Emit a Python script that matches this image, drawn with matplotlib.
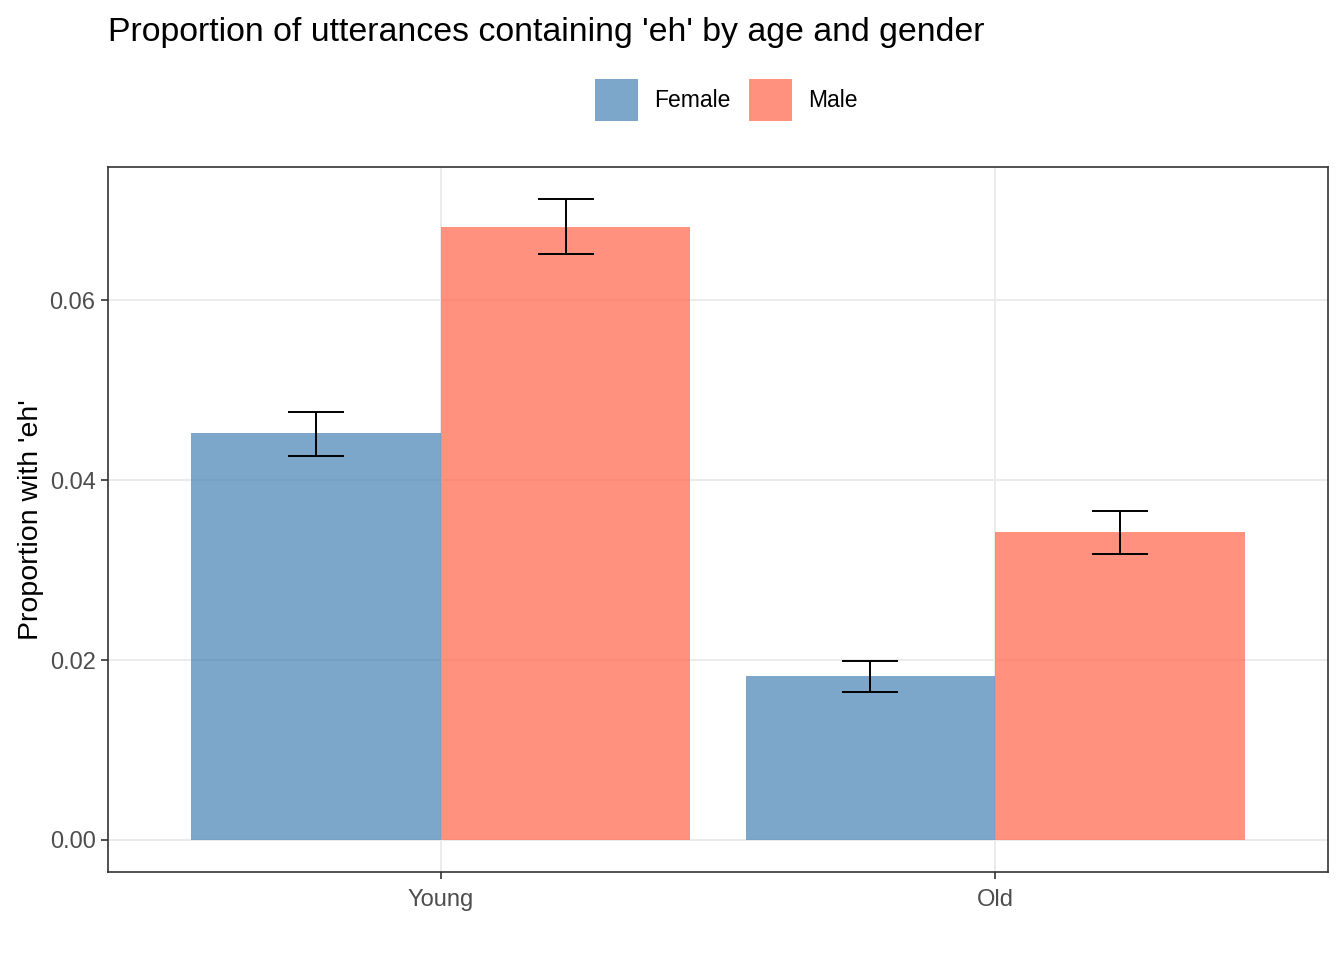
#required imports
import matplotlib.pyplot as plt
import numpy as np

#==========================================
# Data
#==========================================
age_groups = ["Young", "Old"]
genders = ["Female", "Male"]
female_prop = [0.0452, 0.0182]
male_prop = [0.0681, 0.0342]
female_lower = [0.0427, 0.0165]
female_upper = [0.0476, 0.0199]
male_lower = [0.0651, 0.0318]
male_upper = [0.0712, 0.0366]

plt.rcParams['font.family'] = ['Liberation Sans', 'DejaVu Sans']

# Define figure and panel
fig = plt.figure(figsize=(13.44, 9.6), dpi=100)
ax = fig.add_axes([108 / 1344, 88 / 960, 1220 / 1344, 705 / 960])

x = np.arange(1, len(age_groups) + 1)
width = 0.45
colors = {"Female": "steelblue", "Male": "tomato"}

# grid below everything
ax.set_axisbelow(True)
ax.grid(True, color="#EBEBEB", lw=1.4)

series = [
    (female_prop, female_lower, female_upper, -width / 2, "Female"),
    (male_prop, male_lower, male_upper, width / 2, "Male"),
]
for vals, lo, hi, offset, name in series:
  ax.bar(x + offset, vals, width=width, color=colors[name], alpha=0.7,
         label=name, linewidth=0, zorder=2)
  vals = np.array(vals)
  yerr = [vals - np.array(lo), np.array(hi) - vals]
  ax.errorbar(x + offset, vals, yerr=yerr, fmt="none", ecolor="black",
              elinewidth=1.4, capsize=20, capthick=1.4, zorder=3)

# Axis limits and ticks
ax.set_xlim(0.4, 2.6)
ax.set_ylim(-0.00356, 0.0748)
ax.set_xticks(x)
ax.set_xticklabels(age_groups)
ax.set_yticks([0.0, 0.02, 0.04, 0.06])
ax.set_yticklabels(["0.00", "0.02", "0.04", "0.06"])
ax.tick_params(axis="both", colors="#333333", length=5, width=1.2,
               labelsize=17, labelcolor="#4D4D4D", pad=4)
ax.tick_params(axis="x", pad=7)

for spine in ax.spines.values():
  spine.set_color("#333333")
  spine.set_linewidth(1.2)

ax.set_ylabel("Proportion with 'eh'", fontsize=20.5, labelpad=4)

# Title
fig.text(108 / 1344, 1 - 32 / 960, "Proportion of utterances containing 'eh' by age and gender",
         fontsize=24.4, ha="left", va="center")

# Legend
ax.legend(loc="center", bbox_to_anchor=(0.507, 1 + 67 / 705), ncol=2,
          frameon=False, fontsize=16.5, handlelength=1.88, handleheight=2.45,
          handletextpad=0.7, columnspacing=0.8)

plt.savefig("out.png", dpi=100)
